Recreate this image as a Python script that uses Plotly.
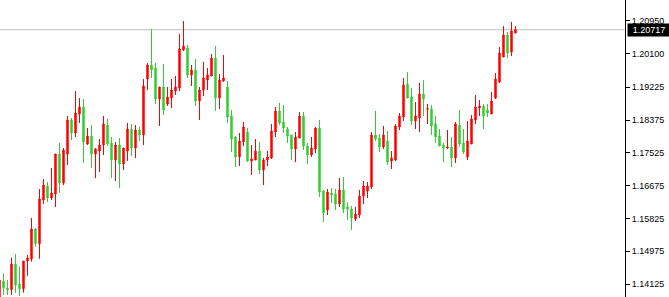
import plotly.graph_objects as go

opens = [
    1.13763, 1.14204, 1.14022, 1.13978, 1.14644, 1.14126, 1.14004, 1.14722, 1.14774, 1.15551,
    1.15170, 1.16303, 1.16666, 1.16355, 1.16459, 1.17495, 1.16744, 1.17495, 1.18377, 1.18040,
    1.18532, 1.18714, 1.17755, 1.17962, 1.17495, 1.17573, 1.17729, 1.18247, 1.17781, 1.17340,
    1.17729, 1.17236, 1.17573, 1.18143, 1.17651, 1.18117, 1.17988, 1.19439, 1.19802, 1.19724,
    1.18921, 1.19232, 1.18791, 1.18947, 1.19128, 1.19206, 1.20191, 1.20243, 1.19543, 1.19673,
    1.18869, 1.19154, 1.19413, 1.19517, 1.19984, 1.18947, 1.19387, 1.19232, 1.18480, 1.17936,
    1.17418, 1.17806, 1.18066, 1.17314, 1.17340, 1.17573, 1.17081, 1.17340, 1.17392, 1.18066,
    1.18610, 1.18325, 1.18143, 1.17988, 1.17625, 1.17910, 1.18480, 1.17703, 1.17469, 1.17625,
    1.18169, 1.16536, 1.16044, 1.16485, 1.16459, 1.16199, 1.16562, 1.16122, 1.16070, 1.15811,
    1.15914, 1.16407, 1.16536, 1.16640, 1.17988, 1.17910, 1.17677, 1.17832, 1.17314, 1.17340,
    1.18195, 1.18454, 1.19310, 1.18973, 1.18351, 1.18429, 1.19051, 1.18654, 1.18662, 1.18273,
    1.17962, 1.17729, 1.17651, 1.17677, 1.17392, 1.18247, 1.17781, 1.17418, 1.17755, 1.18377,
    1.18688, 1.18740, 1.18636, 1.18532, 1.18947, 1.19362, 1.20010, 1.20580, 1.20139, 1.20632,
]
highs = [
    1.14230, 1.14403, 1.14230, 1.14807, 1.14903, 1.14574, 1.14722, 1.14877, 1.15837, 1.15577,
    1.16588, 1.16847, 1.16770, 1.17133, 1.17495, 1.17781, 1.17651, 1.18480, 1.18429, 1.19128,
    1.18947, 1.18921, 1.18169, 1.18247, 1.17651, 1.17884, 1.18480, 1.18403, 1.17936, 1.17806,
    1.17910, 1.17651, 1.18299, 1.18273, 1.18247, 1.18195, 1.19439, 1.19854, 1.20735, 1.19854,
    1.19232, 1.19828, 1.19232, 1.19439, 1.19517, 1.20606, 1.20943, 1.20321, 1.19802, 1.19958,
    1.19232, 1.19880, 1.19724, 1.20087, 1.20295, 1.19569, 1.20061, 1.19387, 1.18636, 1.17962,
    1.18040, 1.18325, 1.18169, 1.17729, 1.17884, 1.17806, 1.17392, 1.17573, 1.18273, 1.18714,
    1.18817, 1.18765, 1.18195, 1.17988, 1.18066, 1.18584, 1.18584, 1.17781, 1.17936, 1.18195,
    1.18377, 1.16562, 1.16588, 1.16614, 1.16588, 1.16873, 1.16899, 1.16251, 1.16148, 1.16122,
    1.16562, 1.16796, 1.16770, 1.18066, 1.18610, 1.18014, 1.18221, 1.18092, 1.17573, 1.18273,
    1.18558, 1.19465, 1.19621, 1.19206, 1.18843, 1.19336, 1.19413, 1.18791, 1.18765, 1.18480,
    1.18143, 1.17781, 1.18117, 1.17936, 1.18325, 1.18636, 1.18143, 1.18351, 1.18506, 1.19025,
    1.18895, 1.18791, 1.18791, 1.19102, 1.19595, 1.20269, 1.20813, 1.20658, 1.20917, 1.20813,
]
lows = [
    1.13711, 1.13841, 1.13841, 1.13841, 1.13900, 1.13815, 1.13900, 1.14341, 1.14704, 1.15092,
    1.14781, 1.16199, 1.16251, 1.16303, 1.16122, 1.16485, 1.16692, 1.17210, 1.17858, 1.17936,
    1.18299, 1.17262, 1.17729, 1.17133, 1.16873, 1.17029, 1.17469, 1.17703, 1.16873, 1.16796,
    1.16614, 1.17081, 1.17314, 1.17444, 1.17392, 1.17832, 1.17729, 1.19154, 1.19465, 1.18791,
    1.18221, 1.18506, 1.18740, 1.18688, 1.19025, 1.19128, 1.20165, 1.19465, 1.19258, 1.18740,
    1.18377, 1.18999, 1.19154, 1.19517, 1.18610, 1.18662, 1.19362, 1.18299, 1.17547, 1.17158,
    1.17184, 1.17703, 1.17288, 1.16951, 1.17340, 1.16977, 1.16692, 1.17184, 1.17366, 1.17936,
    1.18247, 1.18040, 1.17781, 1.17340, 1.17288, 1.17910, 1.17599, 1.17236, 1.17418, 1.17521,
    1.16381, 1.15733, 1.15914, 1.16225, 1.16044, 1.16122, 1.15966, 1.15785, 1.15526, 1.15759,
    1.15837, 1.16199, 1.16355, 1.16588, 1.17832, 1.17547, 1.17625, 1.17210, 1.17107, 1.17314,
    1.18117, 1.18351, 1.18947, 1.18247, 1.18143, 1.18066, 1.18480, 1.18273, 1.17988, 1.17781,
    1.17703, 1.17288, 1.17625, 1.17158, 1.17262, 1.17677, 1.17495, 1.17340, 1.17755, 1.18273,
    1.18480, 1.18143, 1.18454, 1.18532, 1.18921, 1.19336, 1.20010, 1.19984, 1.20035, 1.20632,
]
closes = [
    1.14230, 1.14030, 1.13978, 1.14644, 1.14100, 1.14004, 1.14722, 1.14799, 1.15551, 1.15170,
    1.16329, 1.16692, 1.16355, 1.16485, 1.17495, 1.16744, 1.17599, 1.18377, 1.18040, 1.18558,
    1.18714, 1.17806, 1.17962, 1.17495, 1.17625, 1.17729, 1.18273, 1.17755, 1.17340, 1.17729,
    1.17236, 1.17651, 1.18143, 1.17651, 1.18117, 1.17988, 1.19258, 1.19802, 1.19673, 1.18921,
    1.19232, 1.18636, 1.18973, 1.19154, 1.19232, 1.20217, 1.20295, 1.19543, 1.19673, 1.18869,
    1.19154, 1.19465, 1.19543, 1.19984, 1.18947, 1.19413, 1.19465, 1.18454, 1.17884, 1.17418,
    1.17832, 1.18195, 1.17314, 1.17366, 1.17573, 1.17081, 1.17340, 1.17418, 1.18092, 1.18610,
    1.18299, 1.18169, 1.17962, 1.17625, 1.17936, 1.18480, 1.17703, 1.17469, 1.17651, 1.18169,
    1.16510, 1.15966, 1.16510, 1.16433, 1.16199, 1.16562, 1.16070, 1.16070, 1.15837, 1.15940,
    1.16407, 1.16666, 1.16666, 1.17988, 1.17884, 1.17677, 1.17988, 1.17288, 1.17392, 1.18221,
    1.18480, 1.19284, 1.18947, 1.18351, 1.18480, 1.19051, 1.18921, 1.18670, 1.18221, 1.17936,
    1.17703, 1.17651, 1.17677, 1.17392, 1.18273, 1.17755, 1.17547, 1.17832, 1.18403, 1.18714,
    1.18740, 1.18480, 1.18558, 1.18869, 1.19439, 1.20113, 1.20580, 1.20113, 1.20684, 1.20717,
]

tick_vals = [1.20950, 1.20100, 1.19225, 1.18375, 1.17525, 1.16675, 1.15825, 1.14975, 1.14125]
tick_text = ["1.20950", "1.20100", "1.19225", "1.18375", "1.17525",
             "1.16675", "1.15825", "1.14975", "1.14125"]
last_price = 1.20717
last_label = "1.20717"

bars = list(range(len(opens)))

fig = go.Figure(go.Candlestick(
    x=bars, open=opens, high=highs, low=lows, close=closes,
    increasing=dict(line=dict(color="#FF0000", width=1), fillcolor="#FF0000"),
    decreasing=dict(line=dict(color="#32CD32", width=1), fillcolor="#32CD32"),
    whiskerwidth=0,
    hoverinfo="skip",
))

fig.add_shape(type="line", xref="paper", yref="y", x0=0, x1=1,
              y0=last_price, y1=last_price, layer="below",
              line=dict(color="#C0C0C0", width=1))

fig.add_annotation(x=1, xref="paper", y=last_price, yref="y",
                   text=last_label, showarrow=False, xanchor="left", yanchor="middle",
                   xshift=2, bgcolor="black", width=42, height=12, borderpad=0,
                   font=dict(family="Liberation Sans", size=9, color="white"))

fig.update_layout(
    width=669, height=297,
    margin=dict(l=0, r=44, t=0, b=0),
    paper_bgcolor="white", plot_bgcolor="white",
    showlegend=False,
    boxgap=0.5,
    xaxis=dict(range=[0.125, 156.375], visible=False,
               rangeslider=dict(visible=False), fixedrange=True),
    yaxis=dict(side="right", range=[1.13789, 1.21487],
               tickvals=tick_vals, ticktext=tick_text,
               ticks="outside", ticklen=4, tickcolor="black", tickwidth=1,
               showline=True, linecolor="black", linewidth=1,
               showgrid=False, zeroline=False,
               tickfont=dict(family="Liberation Sans", size=9, color="black")),
)

fig.write_html("out.html", config={"displayModeBar": False})
